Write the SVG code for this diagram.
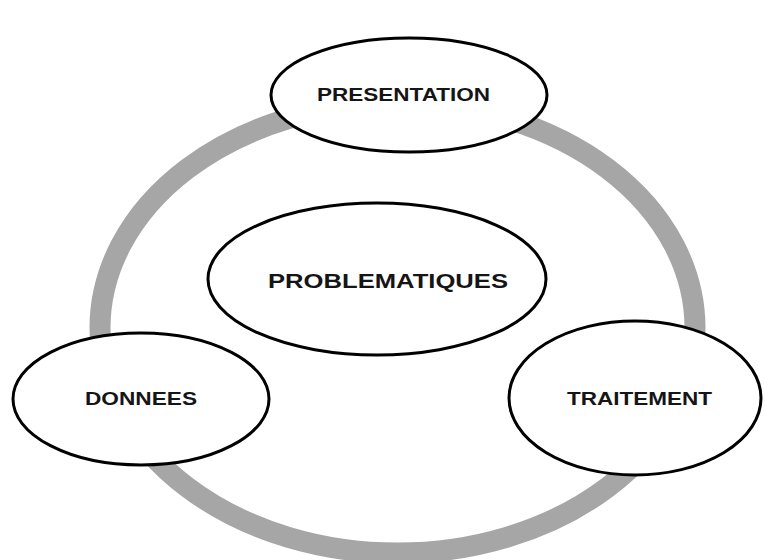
<svg xmlns="http://www.w3.org/2000/svg" width="765" height="560" viewBox="0 0 765 560">
<style>
.node{fill:#ffffff;stroke:#000000;stroke-width:3}
.lbl{font-family:"Liberation Sans",Arial,sans-serif;font-weight:bold;fill:#151515;text-anchor:middle}
.ring{fill:none;stroke:#a6a6a6;stroke-width:21}
</style>
<rect width="765" height="560" fill="#ffffff"/>
<g id="connectors">
<ellipse class="ring" cx="397.5" cy="328" rx="297.5" ry="225"/>
</g>
<g id="presentation">
<ellipse class="node" cx="409" cy="95" rx="138" ry="57"/>
<text class="lbl" x="403.5" y="101" font-size="19" textLength="173" lengthAdjust="spacingAndGlyphs">PRESENTATION</text>
</g>
<g id="problematiques">
<ellipse class="node" cx="377" cy="279" rx="169" ry="76"/>
<text class="lbl" x="388" y="288" font-size="20" textLength="240" lengthAdjust="spacingAndGlyphs">PROBLEMATIQUES</text>
</g>
<g id="donnees">
<ellipse class="node" cx="141" cy="399" rx="128" ry="66"/>
<text class="lbl" x="141" y="405" font-size="18" textLength="112" lengthAdjust="spacingAndGlyphs">DONNEES</text>
</g>
<g id="traitement">
<ellipse class="node" cx="635" cy="398" rx="126" ry="77"/>
<text class="lbl" x="639.5" y="405" font-size="19" textLength="145" lengthAdjust="spacingAndGlyphs">TRAITEMENT</text>
</g>
</svg>
